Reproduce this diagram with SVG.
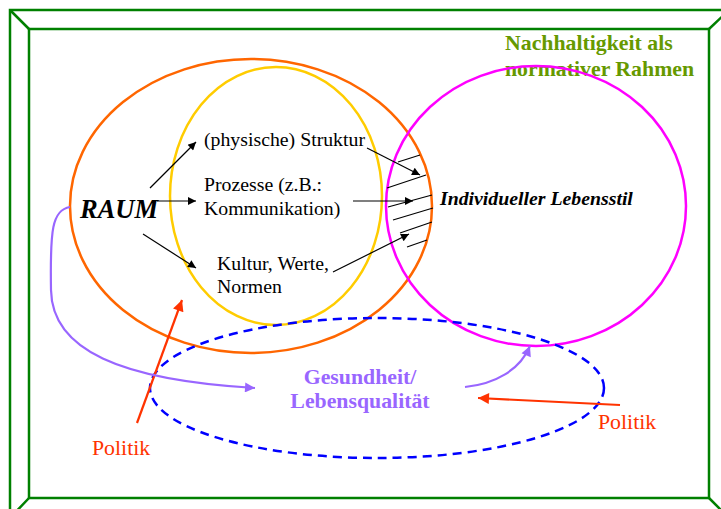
<svg xmlns="http://www.w3.org/2000/svg" width="721" height="509" viewBox="0 0 721 509">
<defs>
<style>
.frame{fill:none;stroke:#008000;stroke-width:2.5}
.t{font-family:"Liberation Serif","Times New Roman",serif;font-size:19.8px;fill:#000}
.blk{stroke:#000;stroke-width:1.2;fill:none}
.red{stroke:#ff3300;stroke-width:2.2;fill:none}
.pur{stroke:#9966ff;stroke-width:2.2;fill:none}
.big{font-family:"Liberation Serif","Times New Roman",serif;font-size:21.8px}
</style>
<marker id="ab" viewBox="0 0 10 10" refX="10" refY="5" markerWidth="11" markerHeight="8" markerUnits="userSpaceOnUse" orient="auto"><path d="M0,0 L10,5 L0,10 z" fill="#000"/></marker>
<marker id="ar" viewBox="0 0 10 10" refX="10" refY="5" markerWidth="14" markerHeight="11" markerUnits="userSpaceOnUse" orient="auto"><path d="M0,0 L10,5 L0,10 z" fill="#ff3300"/></marker>
<marker id="ap" viewBox="0 0 10 10" refX="10" refY="5" markerWidth="13" markerHeight="10" markerUnits="userSpaceOnUse" orient="auto"><path d="M0,0 L10,5 L0,10 z" fill="#9966ff"/></marker>
</defs>
<rect width="721" height="509" fill="#fff"/>
<g id="frame">
<rect class="frame" x="10" y="10" width="719" height="508"/>
<rect class="frame" x="29" y="29" width="680" height="469"/>
<path class="frame" d="M10,10 L29,29 M729,10 L709,29 M709,498 L729,518 M29,498 L10,518"/>
</g>
<g id="rahmen-label">
<text class="big" x="505" y="50" font-weight="bold" fill="#669900">Nachhaltigkeit als</text>
<text class="big" x="505" y="76" font-weight="bold" fill="#669900">normativer Rahmen</text>
</g>
<g id="raum-circle"><ellipse cx="251" cy="206" rx="181" ry="147" fill="none" stroke="#ff6600" stroke-width="2.5"/></g>
<g id="inner-circle"><ellipse cx="276" cy="196" rx="106" ry="129" fill="none" stroke="#ffcc00" stroke-width="2.5"/></g>
<g id="lebensstil-circle"><ellipse cx="536" cy="206" rx="150" ry="140" fill="none" stroke="#ff00ff" stroke-width="2.5"/></g>
<g id="gesundheit-ellipse"><ellipse cx="377" cy="388" rx="227" ry="70" fill="none" stroke="#0000ff" stroke-width="2.5" stroke-dasharray="9,6"/></g>
<g id="raum"><text x="80" y="218" style="font-family:'Liberation Serif',serif;font-size:26.5px;font-weight:bold;font-style:italic">RAUM</text></g>
<g id="struktur"><text class="t" x="204" y="146">(physische) Struktur</text></g>
<g id="prozesse"><text class="t" x="204" y="191">Prozesse (z.B.:</text><text class="t" x="204" y="215">Kommunikation)</text></g>
<g id="kultur"><text class="t" x="217" y="270">Kultur, Werte,</text><text class="t" x="217" y="293">Normen</text></g>
<g id="lebensstil"><text class="t" x="440" y="205" font-weight="bold" font-style="italic">Individueller Lebensstil</text></g>
<g id="gesundheit">
<text class="big" x="360" y="384" text-anchor="middle" font-weight="bold" fill="#9966ff">Gesundheit/</text>
<text class="big" x="360" y="408" text-anchor="middle" font-weight="bold" fill="#9966ff">Lebensqualität</text>
</g>
<g id="politik-left"><text class="big" x="92" y="455" fill="#ff3300">Politik</text></g>
<g id="politik-right"><text class="big" x="598" y="429" fill="#ff3300">Politik</text></g>
<g id="hatching" stroke="#000" stroke-width="1.2">
<line x1="398" y1="162" x2="420" y2="155"/>
<line x1="387" y1="188" x2="426" y2="175"/>
<line x1="388" y1="207" x2="432" y2="195"/>
<line x1="393" y1="220" x2="433" y2="208"/>
<line x1="400" y1="233" x2="432" y2="222"/>
<line x1="407" y1="247" x2="427" y2="240"/>
</g>
<g id="connectors">
<line class="blk" x1="150" y1="188" x2="196" y2="142" marker-end="url(#ab)"/>
<line class="blk" x1="157" y1="201" x2="196" y2="201" marker-end="url(#ab)"/>
<line class="blk" x1="143" y1="234" x2="196" y2="268" marker-end="url(#ab)"/>
<line class="blk" x1="367" y1="148" x2="420" y2="175" marker-end="url(#ab)"/>
<line class="blk" x1="353" y1="201" x2="413" y2="201" marker-end="url(#ab)"/>
<line class="blk" x1="333" y1="272" x2="409" y2="234" marker-end="url(#ab)"/>
<line class="red" x1="137" y1="423" x2="182" y2="300" marker-end="url(#ar)"/>
<line class="red" x1="620" y1="405" x2="478" y2="398" marker-end="url(#ar)"/>
<path class="pur" d="M70,207 C52,210 50,230 51,290 C52,350 120,380 255,388" marker-end="url(#ap)"/>
<path class="pur" d="M465,387 C495,384 520,370 530,346" marker-end="url(#ap)"/>
</g>
</svg>
